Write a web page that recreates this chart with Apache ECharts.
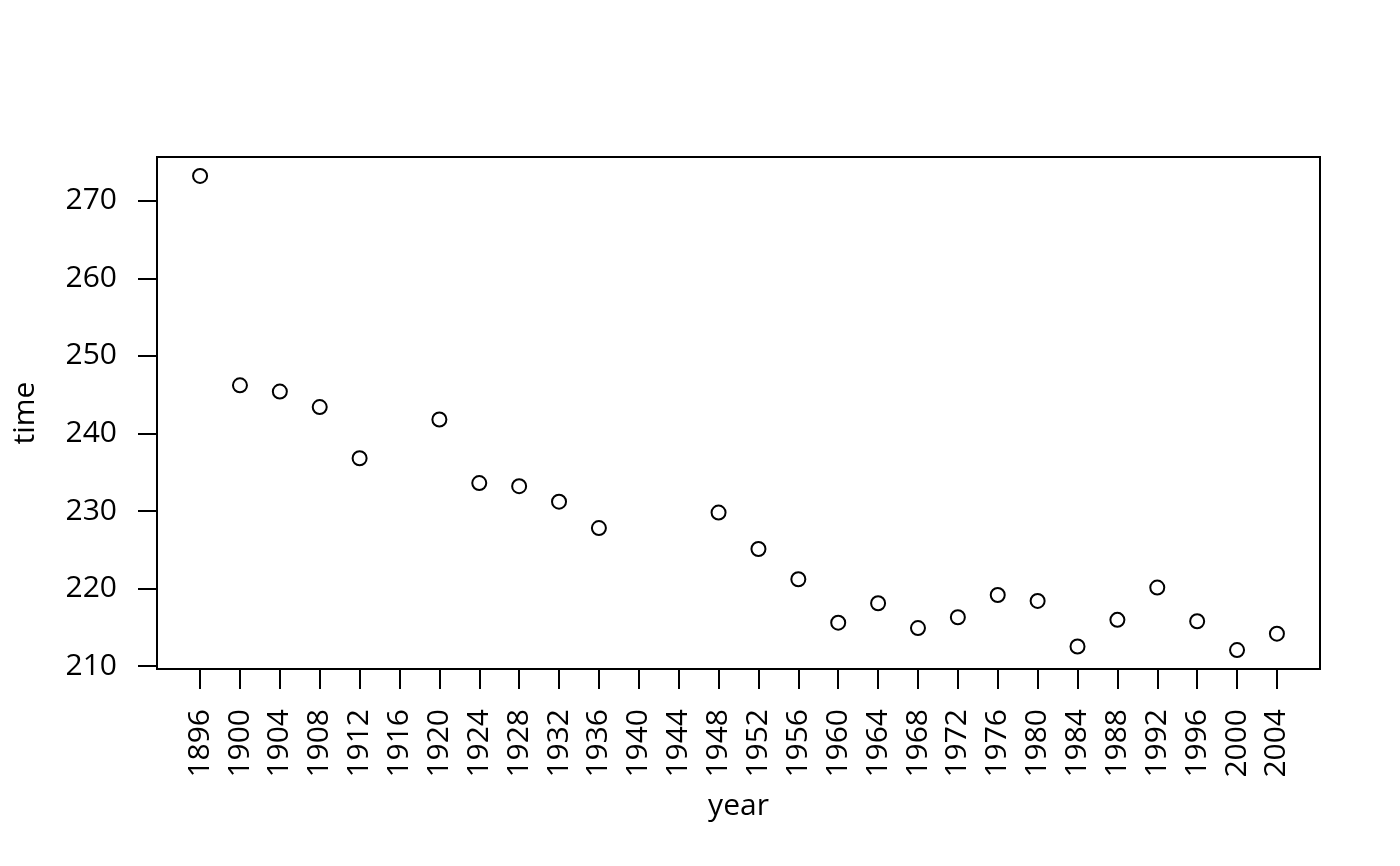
<!DOCTYPE html>
<html>
<head>
<meta charset="utf-8">
<script src="https://cdn.jsdelivr.net/npm/echarts@6/dist/echarts.min.js"></script>
<style>
html,body{margin:0;padding:0;background:#fff;}
#chart{width:1400px;height:866px;}
</style>
</head>
<body>
<div id="chart"></div>
<script>
const years = [1896,1900,1904,1908,1912,1920,1924,1928,1932,1936,1948,1952,1956,1960,1964,1968,1972,1976,1980,1984,1988,1992,1996,2000,2004];
const times = [273.2,246.2,245.4,243.4,236.8,241.8,233.6,233.2,231.2,227.8,229.8,225.1,221.2,215.6,218.1,214.9,216.3,219.17,218.4,212.53,215.96,220.12,215.78,212.07,214.18];
const xTicks = [1896,1900,1904,1908,1912,1916,1920,1924,1928,1932,1936,1940,1944,1948,1952,1956,1960,1964,1968,1972,1976,1980,1984,1988,1992,1996,2000,2004];
const yTicks = [210,220,230,240,250,260,270];

const xMin = 1896 - 0.04*(2004-1896), xMax = 2004 + 0.04*(2004-1896);
const tMin = Math.min(...times), tMax = Math.max(...times);
const yMin = tMin - 0.04*(tMax-tMin), yMax = tMax + 0.04*(tMax-tMin);

const font = "'Open Sans', 'Noto Sans', sans-serif";
const chart = echarts.init(document.getElementById('chart'));
chart.setOption({
  animation: false,
  backgroundColor: '#fff',
  grid: {left: 157, right: 80, top: 157, bottom: 197, show: true, borderColor: '#000', borderWidth: 2, backgroundColor: 'transparent'},
  xAxis: {
    type: 'value', min: xMin, max: xMax,
    name: 'year', nameLocation: 'middle', nameGap: 122,
    nameTextStyle: {color: '#000', fontSize: 30, fontFamily: font},
    axisLine: {show: false},
    splitLine: {show: false},
    axisTick: {show: true, inside: false, length: 20, lineStyle: {color: '#000', width: 2}, customValues: xTicks},
    axisLabel: {rotate: 90, margin: 40, color: '#000', fontSize: 30, fontFamily: font, customValues: xTicks, formatter: v => String(v)}
  },
  yAxis: {
    type: 'value', min: yMin, max: yMax,
    name: 'time', nameLocation: 'middle', nameGap: 117, nameRotate: 90,
    nameTextStyle: {color: '#000', fontSize: 30, fontFamily: font},
    axisLine: {show: false},
    splitLine: {show: false},
    axisTick: {show: true, inside: false, length: 19, lineStyle: {color: '#000', width: 2}, customValues: yTicks},
    axisLabel: {margin: 40, color: '#000', fontSize: 30, fontFamily: font, customValues: yTicks, formatter: v => String(v)}
  },
  series: [{
    type: 'scatter',
    data: years.map((y, i) => [y, times[i]]),
    symbol: 'circle', symbolSize: 14,
    itemStyle: {color: 'rgba(255,255,255,0)', borderColor: '#000', borderWidth: 2, opacity: 1},
    emphasis: {disabled: true}
  }]
});
</script>
</body>
</html>
